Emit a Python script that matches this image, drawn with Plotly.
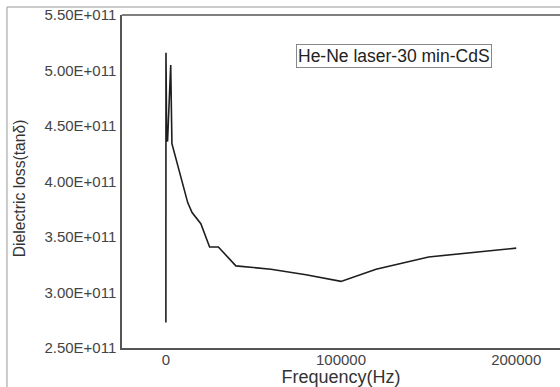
import plotly.graph_objects as go

freq_hz = [50, 100, 500, 1000, 2800, 3500, 5000, 7000, 10000, 12500, 15000, 20000,
           25000, 30000, 40000, 60000, 80000, 100000, 120000, 150000, 200000]
loss = [2.73e11, 5.16e11, 4.38e11, 4.36e11, 5.05e11, 4.34e11, 4.25e11, 4.13e11, 3.97e11,
        3.81e11, 3.72e11, 3.62e11, 3.41e11, 3.41e11, 3.24e11, 3.21e11, 3.16e11, 3.10e11,
        3.21e11, 3.32e11, 3.40e11]

y_tickvals = [2.5e11, 3.0e11, 3.5e11, 4.0e11, 4.5e11, 5.0e11, 5.5e11]
y_ticktext = ["2.50E+011", "3.00E+011", "3.50E+011", "4.00E+011", "4.50E+011", "5.00E+011", "5.50E+011"]
x_tickvals = [0, 100000, 200000]
x_ticktext = ["0", "100000", "200000"]
legend_label = "He-Ne laser-30 min-CdS"
x_title = "Frequency(Hz)"
y_title = "Dielectric loss(tanδ)"

FONT = "Liberation Sans, Arial, sans-serif"

fig = go.Figure()
fig.add_trace(go.Scatter(x=freq_hz, y=loss, mode="lines",
                         line=dict(color="#1e1e1e", width=1.6), showlegend=False))

fig.update_layout(
    width=560, height=387,
    margin=dict(l=122, r=0, t=15, b=39, autoexpand=False),
    paper_bgcolor="white", plot_bgcolor="white",
    font=dict(family=FONT, color="#333333"),
    xaxis=dict(range=[-25000, 225000], tickvals=x_tickvals, ticktext=x_ticktext,
               automargin=False,
               showgrid=False, zeroline=False, showline=True, linecolor="#555555", linewidth=1.5,
               ticks="", ticklabelstandoff=-3, tickfont=dict(size=15, color="#444444"),
               title=dict(text=x_title, font=dict(size=18, color="#333333"), standoff=2)),
    yaxis=dict(range=[2.5e11, 5.5e11], tickvals=y_tickvals, ticktext=y_ticktext,
               automargin=False,
               showgrid=False, zeroline=False, showline=True, linecolor="#555555", linewidth=1.5,
               ticks="", ticklabelstandoff=1, tickfont=dict(size=15, color="#444444")),
    annotations=[
        dict(text=legend_label, xref="paper", yref="paper", x=0.622, y=0.878,
             xanchor="center", yanchor="middle",
             showarrow=False, font=dict(size=17.5, color="#222222"),
             bordercolor="#888888", borderwidth=1, borderpad=1, bgcolor="white"),
        dict(text=y_title, xref="paper", yref="paper", x=-0.235, y=0.48,
             xanchor="center", yanchor="middle", textangle=-90,
             showarrow=False, font=dict(size=15.7, color="#333333")),
    ],
    shapes=[
        dict(type="line", xref="paper", yref="paper", x0=0, x1=1, y0=1, y1=1,
             line=dict(color="#555555", width=1.5)),
        dict(type="line", xref="paper", yref="paper", x0=-0.2626, x1=1, y0=1.024, y1=1.024,
             line=dict(color="#999999", width=1)),
        dict(type="line", xref="paper", yref="paper", x0=-0.2626, x1=-0.2626, y0=-0.2, y1=1.024,
             line=dict(color="#999999", width=1)),
    ],
)

fig.write_html("out.html", config={"displayModeBar": False},
               post_script="document.body.style.margin='0';document.body.style.overflow='hidden';")
